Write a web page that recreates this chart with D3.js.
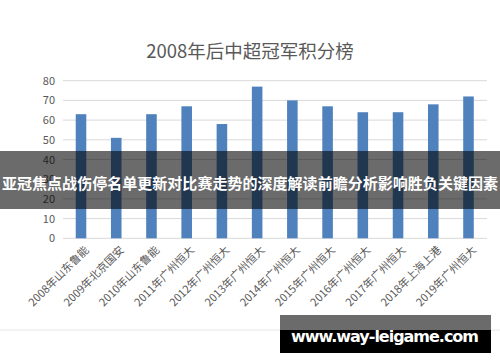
<!DOCTYPE html>
<html>
<head>
<meta charset="utf-8">
<script src="https://cdn.jsdelivr.net/npm/d3@7"></script>
<style>
  body { margin: 0; background: #fff; }
  svg { display: block; }
</style>
</head>
<body>
<div id="chart"></div>
<script>
const seasons = ['2008年山东鲁能', '2009年北京国安', '2010年山东鲁能', '2011年广州恒大',
  '2012年广州恒大', '2013年广州恒大', '2014年广州恒大', '2015年广州恒大',
  '2016年广州恒大', '2017年广州恒大', '2018年上海上港', '2019年广州恒大'];
const points = [63, 51, 63, 67, 58, 77, 70, 67, 64, 64, 68, 72];
const yTicks = [0, 10, 20, 30, 40, 50, 60, 70, 80];
const chartTitle = '2008年后中超冠军积分榜';
const bannerText = '亚冠焦点战伤停名单更新对比赛走势的深度解读前瞻分析影响胜负关键因素';
const siteText = 'www.way-leigame.com';

const width = 500;
const height = 362;
const font = '"Noto Sans CJK SC", "Open Sans", sans-serif';

const svg = d3.select('#chart').append('svg')
  .attr('width', width)
  .attr('height', height);

svg.append('text')
  .attr('x', 250)
  .attr('y', 58)
  .attr('text-anchor', 'middle')
  .style('font-family', font)
  .style('font-size', '18.5px')
  .style('fill', '#595959')
  .text(chartTitle);

const xScale = d3.scaleBand()
  .domain(seasons)
  .range([63.4, 486.1])
  .paddingInner(0.7)
  .paddingOuter(0.35);

const yScale = d3.scaleLinear()
  .domain([0, 80])
  .range([238.3, 80.7]);

// gridlines
svg.append('g')
  .selectAll('line')
  .data(yTicks)
  .enter()
  .append('line')
  .attr('x1', 63)
  .attr('x2', 487)
  .attr('y1', d => yScale(d))
  .attr('y2', d => yScale(d))
  .style('stroke', '#d9d9d9')
  .style('stroke-width', 1);

const yAxis = d3.axisLeft(yScale).tickValues(yTicks).tickSize(0).tickPadding(0);
const yAxisGroup = svg.append('g')
  .attr('transform', 'translate(55,0)')
  .call(yAxis);
yAxisGroup.select('.domain').remove();
yAxisGroup.selectAll('text')
  .style('font-family', font)
  .style('font-size', '11px')
  .style('fill', '#595959');

svg.append('g')
  .selectAll('rect')
  .data(points)
  .enter()
  .append('rect')
  .attr('x', (d, i) => xScale(seasons[i]))
  .attr('y', d => yScale(d))
  .attr('width', xScale.bandwidth())
  .attr('height', d => yScale(0) - yScale(d))
  .style('fill', '#4f81bd');

const xAxis = d3.axisBottom(xScale).tickSize(0).tickPadding(0);
const xAxisGroup = svg.append('g')
  .attr('transform', `translate(3,${yScale(0) + 7})`)
  .call(xAxis);
xAxisGroup.select('.domain').remove();
xAxisGroup.selectAll('text')
  .attr('text-anchor', 'end')
  .attr('dy', '0.7em')
  .attr('transform', 'rotate(-45)')
  .style('font-family', font)
  .style('font-size', '11px')
  .style('fill', '#595959');

// faint frame line under labels
svg.append('line')
  .attr('x1', 0).attr('x2', width)
  .attr('y1', 330).attr('y2', 330)
  .style('stroke', '#e6e6e6');

// banner overlay
svg.append('rect')
  .attr('x', 0).attr('y', 151)
  .attr('width', width).attr('height', 58)
  .style('fill', 'rgba(0,0,0,0.58)');
svg.append('text')
  .attr('x', 250)
  .attr('y', 189)
  .attr('text-anchor', 'middle')
  .attr('textLength', 496)
  .style('font-family', font)
  .style('font-weight', 'bold')
  .style('font-size', '15px')
  .style('fill', '#fff')
  .text(bannerText);

// site watermark
svg.append('rect')
  .attr('x', 280).attr('y', 315)
  .attr('width', 211).attr('height', 38)
  .style('fill', '#000');
svg.append('rect')
  .attr('x', 280).attr('y', 315)
  .attr('width', 211).attr('height', 15)
  .style('fill', '#6b6b6b');
svg.append('text')
  .attr('x', 385)
  .attr('y', 342)
  .attr('text-anchor', 'middle')
  .attr('textLength', 188)
  .style('font-family', '"DejaVu Sans", sans-serif')
  .style('font-weight', 'bold')
  .style('font-size', '16px')
  .style('fill', '#fff')
  .text(siteText);
</script>
</body>
</html>
